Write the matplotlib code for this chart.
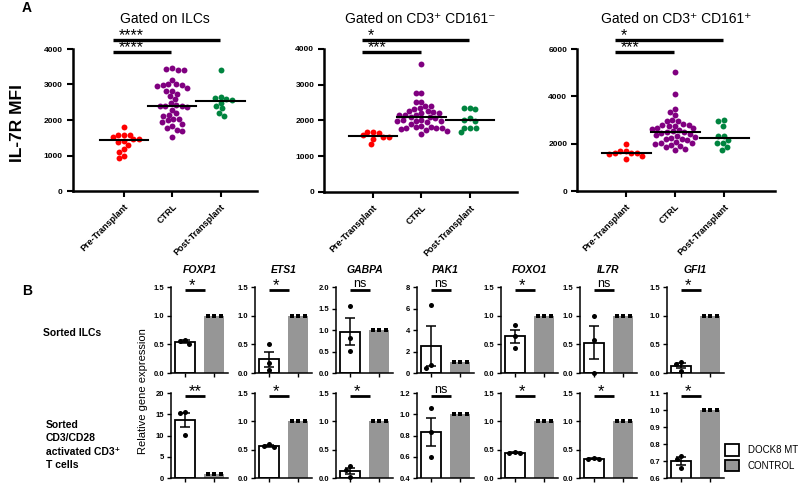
import numpy as np
import matplotlib
matplotlib.use('Agg')
import matplotlib.pyplot as plt
from matplotlib.patches import Patch

plt.rcParams['font.family'] = ['Liberation Sans', 'DejaVu Sans']

# ---- panel A: IL-7R MFI per group ----
groups = ['Pre-Transplant', 'CTRL', 'Post-Transplant']
a_titles = ['Gated on ILCs', 'Gated on CD3⁺ CD161⁻', 'Gated on CD3⁺ CD161⁺']

pre_ilc = [1590, 1590, 1790, 1460, 1460, 1530, 1590, 1300, 1420, 1370, 1090, 1170, 1000, 920]
ctrl_ilc = [3460, 3410, 3410, 3450, 3130, 3010, 2970, 2990, 2990, 3010, 2830, 2830, 2740, 2900,
            2590, 2680, 2480, 2400, 2360, 2290, 2400, 2400, 2410, 2190, 2120, 2020, 2040, 2150,
            1990, 1890, 1820, 1770, 1720, 1680, 1530, 1930]
post_ilc = [3400, 2600, 2490, 2660, 2570, 2620, 2330, 2400, 2120, 2190]

pre_neg = [1690, 1590, 1550, 1660, 1690, 1550, 1490, 1340]
ctrl_neg = [3580, 2780, 2770, 2530, 2510, 2410, 2400, 2360, 2330, 2270, 2260, 2250, 2200, 2200,
            2160, 2150, 2140, 2110, 2090, 2060, 2010, 2000, 1990, 1990, 1980, 1950, 1900, 1840,
            1830, 1810, 1800, 1800, 1790, 1750, 1730, 1720, 1610]
post_neg = [2360, 2310, 2340, 2010, 1990, 2060, 1800, 1800, 1800, 1670]

pre_pos = [1700, 1610, 1560, 1970, 1700, 1490, 1340, 1590, 1610]
ctrl_pos = [5010, 4090, 3470, 3330, 3210, 3000, 2970, 2960, 2830, 2800, 2780, 2750, 2740, 2660,
            2650, 2620, 2560, 2520, 2500, 2480, 2460, 2400, 2370, 2330, 2300, 2220, 2200, 2180,
            2150, 2080, 2040, 2010, 2000, 1940, 1900, 1870, 1770, 1750]
post_pos = [3000, 2960, 2760, 2320, 2320, 2150, 2040, 2040, 1870, 1730]

a_data = [[pre_ilc, ctrl_ilc, post_ilc], [pre_neg, ctrl_neg, post_neg], [pre_pos, ctrl_pos, post_pos]]
a_ymax = [4000, 4000, 6000]
a_stars = [('****', '****'), ('*', '***'), ('*', '***')]

# ---- panel B: relative gene expression (DOCK8 MT vs control = 1) ----
genes = ['FOXP1', 'ETS1', 'GABPA', 'PAK1', 'FOXO1', 'IL7R', 'GFI1']
ilc_mt = [[0.58, 0.55, 0.51], [0.50, 0.17, 0.05], [1.55, 0.82, 0.52], [6.3, 0.5, 0.75],
          [0.83, 0.65, 0.43], [1.0, 0.58, 0.0], [0.20, 0.16, 0.03]]
ilc_sig = ['*', '*', 'ns', 'ns', '*', 'ns', '*']
ilc_ylim = [(0, 1.5), (0, 1.5), (0, 2.0), (0, 8), (0, 1.5), (0, 1.5), (0, 1.5)]
ilc_step = [0.5, 0.5, 0.5, 2, 0.5, 0.5, 0.5]

tc_mt = [[15.5, 15.2, 10.2], [0.60, 0.56, 0.55], [0.21, 0.15, 0.02], [1.06, 0.83, 0.60],
         [0.46, 0.45, 0.44], [0.35, 0.34, 0.34], [0.73, 0.71, 0.66]]
tc_sig = ['**', '*', '*', 'ns', '*', '*', '*']
tc_ylim = [(0, 20), (0, 1.5), (0, 1.5), (0.4, 1.2), (0, 1.5), (0, 1.5), (0.6, 1.1)]
tc_step = [5, 0.5, 0.5, 0.2, 0.5, 0.5, 0.1]
ctrl_vals = [1.0, 1.0, 1.0]

W, H = 800, 486
fig = plt.figure(figsize=(8, 4.86), dpi=100)


def box(l, t, r, b):
    return [l / W, 1 - b / H, (r - l) / W, (b - t) / H]


def swarm(ax, xc, vals, d):
    # simple beeswarm in pixel space, returns x in data units
    vals = np.asarray(vals, float)
    disp = ax.transData.transform(np.column_stack([np.full(len(vals), xc), vals]))
    x0 = disp[0, 0]
    ys = disp[:, 1]
    offs = np.zeros(len(vals))
    placed = []
    for i in np.argsort(-vals, kind='stable'):
        y = ys[i]
        cands = [0.0]
        for xo, yo in placed:
            dy = abs(y - yo)
            if dy < d:
                dx = np.sqrt(d * d - dy * dy)
                cands += [xo - dx, xo + dx]
        cands.sort(key=lambda c: (abs(c), c))
        for c in cands:
            if all((c - xo) ** 2 + (y - yo) ** 2 >= d * d - 1e-6 for xo, yo in placed):
                offs[i] = c
                break
        placed.append((offs[i], y))
    return ax.transData.inverted().transform(np.column_stack([x0 + offs, ys]))[:, 0]


colors = ['#ff0000', '#800080', '#00843f']
a_boxes = [(72.5, 49, 257, 191), (324, 49, 517, 192), (577, 49, 775, 191)]
a_xlims = [(-1.06, 2.75), (-1.01, 2.97), (-1.0, 3.04)]

for k in range(3):
    ax = fig.add_axes(box(*a_boxes[k]))
    ax.set_xlim(*a_xlims[k])
    ax.set_ylim(0, a_ymax[k])
    for s in ['top', 'right']:
        ax.spines[s].set_visible(False)
    for s in ['left', 'bottom']:
        ax.spines[s].set_linewidth(1.8)
    step = a_ymax[k] // (4 if a_ymax[k] == 4000 else 3)
    yt = np.arange(0, a_ymax[k] + 1, step)
    ax.set_yticks(yt, [str(v) for v in yt], fontweight='bold', fontsize=6)
    ax.set_xticks(range(3), groups, rotation=45, ha='right', rotation_mode='anchor',
                  fontweight='bold', fontsize=6.5)
    ax.tick_params(width=1.5, length=4, pad=3)
    ax.tick_params(axis='x', pad=4)
    for g in range(3):
        vals = a_data[k][g]
        xs = swarm(ax, g, vals, 5.8)
        ax.scatter(xs, vals, s=18, color=colors[g], linewidths=0, zorder=3)
        med = np.median(vals)
        ax.plot([g - 0.5, g + 0.5], [med, med], color='black', lw=1.5, zorder=4)
    tr = ax.get_xaxis_transform()
    for yb, x1, st in [(1.065, 1.98, a_stars[k][0]), (0.977, 0.98, a_stars[k][1])]:
        ax.plot([-0.22, x1], [yb, yb], color='black', lw=2.4, transform=tr, clip_on=False,
                solid_capstyle='butt')
        ax.annotate(st, xy=(-0.22, yb), xycoords=tr, xytext=(4, 0), textcoords='offset points',
                    ha='left', va='baseline', fontsize=11.5)
    ax.text(0.5, 1.211, a_titles[k], transform=ax.transAxes, ha='center', va='center', fontsize=10)

fig.text(27 / W, 1 - 8 / H, 'A', fontsize=10, fontweight='bold', ha='center', va='center')
fig.text(18 / W, 1 - 123 / H, 'IL-7R MFI', fontsize=12.5, fontweight='bold', rotation=90,
         ha='center', va='center')

# ---- panel B ----
b_lefts = [171, 255, 336, 417, 501, 580, 667]
rows = [(287, 373, ilc_mt, ilc_sig, ilc_ylim, ilc_step),
        (393, 478, tc_mt, tc_sig, tc_ylim, tc_step)]

for r, (top, bot, mt, sig, ylims, steps) in enumerate(rows):
    for j, l in enumerate(b_lefts):
        ax = fig.add_axes(box(l, top, l + 57, bot))
        lo, hi = ylims[j]
        ax.set_xlim(-0.48, 1.48)
        ax.set_ylim(lo, hi)
        for s in ['top', 'right']:
            ax.spines[s].set_visible(False)
        for s in ['left', 'bottom']:
            ax.spines[s].set_linewidth(1.1)
        yt = np.arange(lo, hi + steps[j] / 2, steps[j])
        fmt = '%.1f' if steps[j] < 1 else '%d'
        ax.set_yticks(yt, [fmt % v for v in yt], fontweight='bold', fontsize=5.5)
        ax.set_xticks([0, 1], ['', ''])
        ax.tick_params(width=1, length=3, pad=2)

        vals = np.array(mt[j])
        m = vals.mean()
        sem = vals.std(ddof=1) / np.sqrt(len(vals))
        ax.bar(0, m, width=0.69, color='white', edgecolor='black', linewidth=1.3, zorder=2)
        ax.bar(1, np.mean(ctrl_vals), width=0.69, color='#969696', linewidth=0, zorder=2)
        ax.errorbar(0, m, yerr=sem, color='black', capsize=3.6, elinewidth=1.1, capthick=1.1, zorder=3)
        ax.scatter(swarm(ax, 0, vals, 5.5), vals, s=13, color='black', linewidths=0, zorder=4, clip_on=False)
        ax.scatter(swarm(ax, 1, ctrl_vals, 6.5), ctrl_vals, marker='s', s=9, color='black',
                   linewidths=0, zorder=4)

        tr = ax.get_xaxis_transform()
        ax.plot([0, 0.69], [0.97, 0.97], color='black', lw=2, transform=tr, clip_on=False,
                solid_capstyle='butt')
        if sig[j] == 'ns':
            ax.annotate('ns', xy=(0.345, 0.97), xycoords=tr, xytext=(0, 2), textcoords='offset points',
                        ha='center', va='baseline', fontsize=9)
        else:
            xc = 0.345 if len(sig[j]) > 1 else 0.25
            ax.annotate(sig[j], xy=(xc, 0.97), xycoords=tr, xytext=(0, -0.5), textcoords='offset points',
                        ha='center', va='baseline', fontsize=12)
        if r == 0:
            ax.text(0.5, 1.198, genes[j], transform=ax.transAxes, ha='center', va='center',
                    fontsize=7.5, fontweight='bold', fontstyle='italic')

fig.text(27 / W, 1 - 291 / H, 'B', fontsize=10, fontweight='bold', ha='center', va='center')
fig.text(43 / W, 1 - 333 / H, 'Sorted ILCs', fontsize=7.5, fontweight='bold', ha='left', va='center')
fig.text(46 / W, 1 - 445 / H, 'Sorted\nCD3/CD28\nactivated CD3⁺\nT cells', fontsize=7.5,
         fontweight='bold', ha='left', va='center', linespacing=1.45)
fig.text(143 / W, 1 - 391 / H, 'Relative gene expression', fontsize=8, rotation=90,
         ha='center', va='center')

handles = [Patch(facecolor='white', edgecolor='black', linewidth=1.3),
           Patch(facecolor='#969696', edgecolor='black', linewidth=1.3)]
fig.legend(handles=handles, labels=['DOCK8 MT', 'CONTROL'], loc='upper left',
           bbox_to_anchor=(725 / W, 1 - 444 / H), frameon=False, fontsize=7,
           handlelength=1.45, handleheight=1.45, handletextpad=0.9, labelspacing=0.45,
           borderpad=0, borderaxespad=0)

fig.savefig('out.png', dpi=100)
